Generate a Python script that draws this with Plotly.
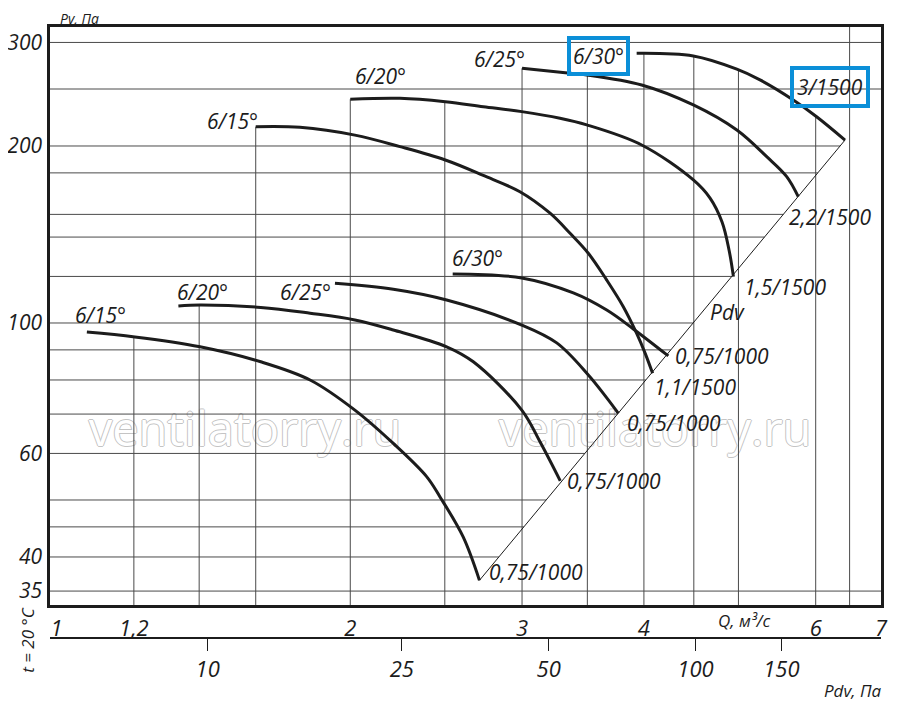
import numpy as np
import plotly.graph_objects as go

FONT = "Open Sans"
INK = "#1c1c1c"
GRID = "#4a4a4a"
BLUE = "#0b8fd8"

# Q (м³/с) against Pv (Па)
# 1000 rpm, 0,75 kW
q_1000_15 = [1.074, 1.203, 1.403, 1.619, 1.819, 2.022, 2.214, 2.395, 2.472, 2.61, 2.713]
pv_1000_15 = [96.5, 94.7, 91.1, 85.9, 80.0, 71.1, 62.4, 54.8, 50.6, 43.3, 36.5]
q_1000_20 = [1.333, 1.403, 1.619, 1.819, 2.022, 2.214, 2.511, 2.674, 2.998, 3.13, 3.283]
pv_1000_20 = [106.9, 107.3, 106.3, 103.9, 101.2, 97.3, 91.1, 85.9, 71.1, 62.8, 53.9]
q_1000_25 = [1.929, 2.214, 2.511, 2.998, 3.256, 3.508, 3.664, 3.766]
pv_1000_25 = [116.8, 114.1, 109.4, 99.2, 92.5, 81.6, 74.6, 70.2]
q_1000_30 = [2.547, 2.998, 3.386, 3.664, 3.901, 4.237]
pv_1000_30 = [121.2, 119.3, 112.5, 105.2, 97.7, 87.9]

# 1500 rpm
q_1500_15 = [1.6, 1.776, 2.022, 2.249, 2.503, 2.738, 2.985, 3.205, 3.36, 3.508, 3.664, 3.81, 3.932, 4.012, 4.083]
pv_1500_15 = [215.7, 215.2, 208.7, 199.5, 189.3, 178.2, 167.2, 153.7, 142.1, 131.4, 118.3, 106.6, 96.0, 88.8, 82.1]
q_1500_20 = [2.0, 2.249, 2.503, 2.738, 2.998, 3.281, 3.495, 3.979, 4.495, 4.676, 4.81, 4.89, 4.941]
pv_1500_20 = [240.2, 241.1, 237.9, 233.3, 228.8, 222.9, 217.2, 200.8, 175.1, 163.1, 148.5, 133.1, 119.9]
q_1500_25 = [3.0, 3.36, 3.495, 3.979, 4.495, 4.981, 5.345, 5.603, 5.758]
pv_1500_25 = [271.2, 266.0, 264.2, 254.0, 234.9, 212.9, 191.8, 177.4, 164.0]
q_1500_30 = [3.932, 4.495, 4.981, 5.261, 5.691, 6.013, 6.43]
pv_1500_30 = [287.5, 284.5, 270.2, 259.1, 239.5, 224.3, 204.7]

# dynamic pressure line Pdv through the curve ends
pdv_q = [2.713, 6.43]
pdv_pv = [36.5, 204.7]

blade_labels = ["6/15°", "6/20°", "6/25°", "6/30°"]
motor_1000 = ["0,75/1000", "0,75/1000", "0,75/1000", "0,75/1000"]
motor_1500 = ["1,1/1500", "1,5/1500", "2,2/1500", "3/1500"]

q_ticks = [1, 1.2, 2, 3, 4, 6, 7]
q_ticktext = ["1", "1,2", "2", "3", "4", "6", "7"]
pv_ticks = [35, 40, 60, 100, 200, 300]
pdv_ticks = [10, 25, 50, 100, 150]
q_grid = [1.2, 1.4, 1.6, 2, 2.5, 3, 3.5, 4, 4.5, 5, 6, 6.5]
pv_grid = [35, 40, 45, 50, 60, 70, 80, 90, 100, 120, 140, 153, 180, 200, 250, 300]
pdv_per_q2 = 4.9  # Pdv scale under the Q axis: Pdv = 4.9 * Q^2

x_range = [np.log10(0.9845), np.log10(7.0)]
y_range = [1.5204, 2.5034]

curves = [
    (q_1000_15, pv_1000_15), (q_1000_20, pv_1000_20),
    (q_1000_25, pv_1000_25), (q_1000_30, pv_1000_30),
    (q_1500_15, pv_1500_15), (q_1500_20, pv_1500_20),
    (q_1500_25, pv_1500_25), (q_1500_30, pv_1500_30),
]
start_text = blade_labels + blade_labels
end_text = motor_1000 + motor_1500
# label offsets in px (dx, dy up) relative to the curve start / end
start_off = [(14, 17), (24, 14), (-29, -9), (25, 16),
             (-23, 6), (30, 23), (-23, 9), (-38, -3)]
end_off = [(8, 8), (5, 0), (7, -10), (5, 0),
           (-1, -14), (9, -10), (-11, -20), (-15, 53)]
boxed_start = {7}
boxed_end = {7}


def top_of(q):
    # vertical grid lines stop at the highest curve above them
    vals = []
    for cq, cpv in curves:
        if cq[0] - 1e-9 <= q <= cq[-1] + 1e-9:
            vals.append(np.interp(np.log10(q), np.log10(cq), np.log10(cpv)))
    return 10 ** max(vals) if vals else 10 ** y_range[1]


def right_of(pv):
    # horizontal grid lines stop at the Pdv line
    if pv < pdv_pv[0] or pv > pdv_pv[-1]:
        return 10 ** x_range[1]
    return 10 ** np.interp(np.log10(pv), np.log10(pdv_pv), np.log10(pdv_q))


fig = go.Figure()

# watermark, drawn first so everything sits on top of it
shadow = "1px 0 0 #c4c4c4, -1px 0 0 #c4c4c4, 0 1px 0 #c4c4c4, 0 -1px 0 #c4c4c4"
fig.add_trace(go.Scatter(
    x=[1.56, 4.107], y=[64.7, 64.7], mode="text",
    text=["ventilatorry.ru", "ventilatorry.ru"], textposition="middle center",
    textfont=dict(family=FONT, size=47, color="white", shadow=shadow),
    hoverinfo="skip", showlegend=False,
))

vx, vy = [], []
for q in q_grid:
    vx += [q, q, None]
    vy += [10 ** y_range[0], top_of(q), None]
hx, hy = [], []
for pv in pv_grid:
    hx += [10 ** x_range[0], right_of(pv), None]
    hy += [pv, pv, None]
fig.add_trace(go.Scatter(x=vx, y=vy, mode="lines", line=dict(color=GRID, width=1),
                         hoverinfo="skip", showlegend=False))
fig.add_trace(go.Scatter(x=hx, y=hy, mode="lines", line=dict(color=GRID, width=1),
                         hoverinfo="skip", showlegend=False))

fig.add_trace(go.Scatter(x=pdv_q, y=pdv_pv, mode="lines", line=dict(color=INK, width=1),
                         hoverinfo="skip", showlegend=False))

for cq, cpv in curves:
    fig.add_trace(go.Scatter(x=cq, y=cpv, mode="lines",
                             line=dict(color=INK, width=3, shape="spline", smoothing=1.0),
                             showlegend=False))

# Pdv scale, drawn through an invisible trace on the second x axis
fig.add_trace(go.Scatter(x=pdv_ticks, y=[100] * len(pdv_ticks), xaxis="x2", mode="markers",
                         marker=dict(opacity=0), hoverinfo="skip", showlegend=False))

lab_font = dict(family=FONT, size=21, color=INK, style="italic")
small_font = dict(family=FONT, size=17, color=INK, style="italic")
annotations = []
for i, (cq, cpv) in enumerate(curves):
    dx, dy = start_off[i]
    a = dict(x=np.log10(cq[0]), y=np.log10(cpv[0]), xref="x", yref="y",
             text=start_text[i], showarrow=False, font=lab_font,
             xshift=dx, yshift=dy)
    if i in boxed_start:
        a.update(bordercolor=BLUE, borderwidth=4, borderpad=2)
    annotations.append(a)
    dx, dy = end_off[i]
    a = dict(x=np.log10(cq[-1]), y=np.log10(cpv[-1]), xref="x", yref="y",
             text=end_text[i], showarrow=False, font=lab_font,
             xanchor="center" if i in boxed_end else "left",
             xshift=dx, yshift=dy)
    if i in boxed_end:
        a.update(bordercolor=BLUE, borderwidth=4, borderpad=3)
    annotations.append(a)

annotations += [
    dict(x=np.log10(4.867), y=np.log10(104.4), xref="x", yref="y", text="Pdv",
         showarrow=False, font=lab_font),
    dict(x=0.035, y=1.0, xref="paper", yref="paper", text="Pv, Па", showarrow=False,
         xanchor="center", yanchor="bottom", yshift=-2, borderpad=0,
         font=dict(family=FONT, size=14, color=INK, style="italic")),
    dict(x=0.966, y=-0.036, xref="paper", yref="paper", text="Pdv, Па", showarrow=False,
         xanchor="center", yanchor="middle", font=small_font),
    dict(x=0.836, y=0.0734, xref="paper", yref="paper", text="Q, м³/с", showarrow=False,
         xanchor="center", yanchor="middle", font=small_font),
    dict(x=-0.028, y=0.042, xref="paper", yref="paper", text="t = 20 °C", showarrow=False,
         xanchor="center", yanchor="middle", textangle=-90, font=small_font),
]

tick_font = dict(family=FONT, size=22, color=INK, style="italic")
# the page body has an 8px margin, so the figure is sized and offset for it
fig.update_layout(
    width=892, height=699,
    margin=dict(l=42, r=19, t=19, b=40, autoexpand=False),
    paper_bgcolor="white", plot_bgcolor="white",
    showlegend=False,
    annotations=annotations,
    xaxis=dict(type="log", range=x_range, tickvals=q_ticks, ticktext=q_ticktext,
               showgrid=False, zeroline=False, ticks="", tickfont=tick_font,
               automargin=False, ticklabelstandoff=2,
               showline=True, linewidth=2.5, linecolor=INK, mirror=True),
    yaxis=dict(type="log", range=y_range, domain=[0.0969, 1], tickvals=pv_ticks,
               ticktext=[str(v) for v in pv_ticks], showgrid=False, zeroline=False,
               ticks="", tickfont=dict(family=FONT, size=21, color=INK, style="italic"),
               ticklabelstandoff=1, automargin=False,
               showline=True, linewidth=2.5, linecolor=INK, mirror=True),
    xaxis2=dict(type="log", overlaying="x", anchor="free", position=0.0453, side="bottom",
                range=[np.log10(pdv_per_q2) + 2 * x_range[0], np.log10(pdv_per_q2) + 2 * x_range[1]],
                tickvals=pdv_ticks, ticktext=[str(v) for v in pdv_ticks],
                showgrid=False, zeroline=False, ticks="outside", ticklen=12,
                tickcolor=INK, tickwidth=1, tickfont=tick_font, automargin=False,
                showline=True, linewidth=2, linecolor=INK),
)

fig.write_html("out.html")
